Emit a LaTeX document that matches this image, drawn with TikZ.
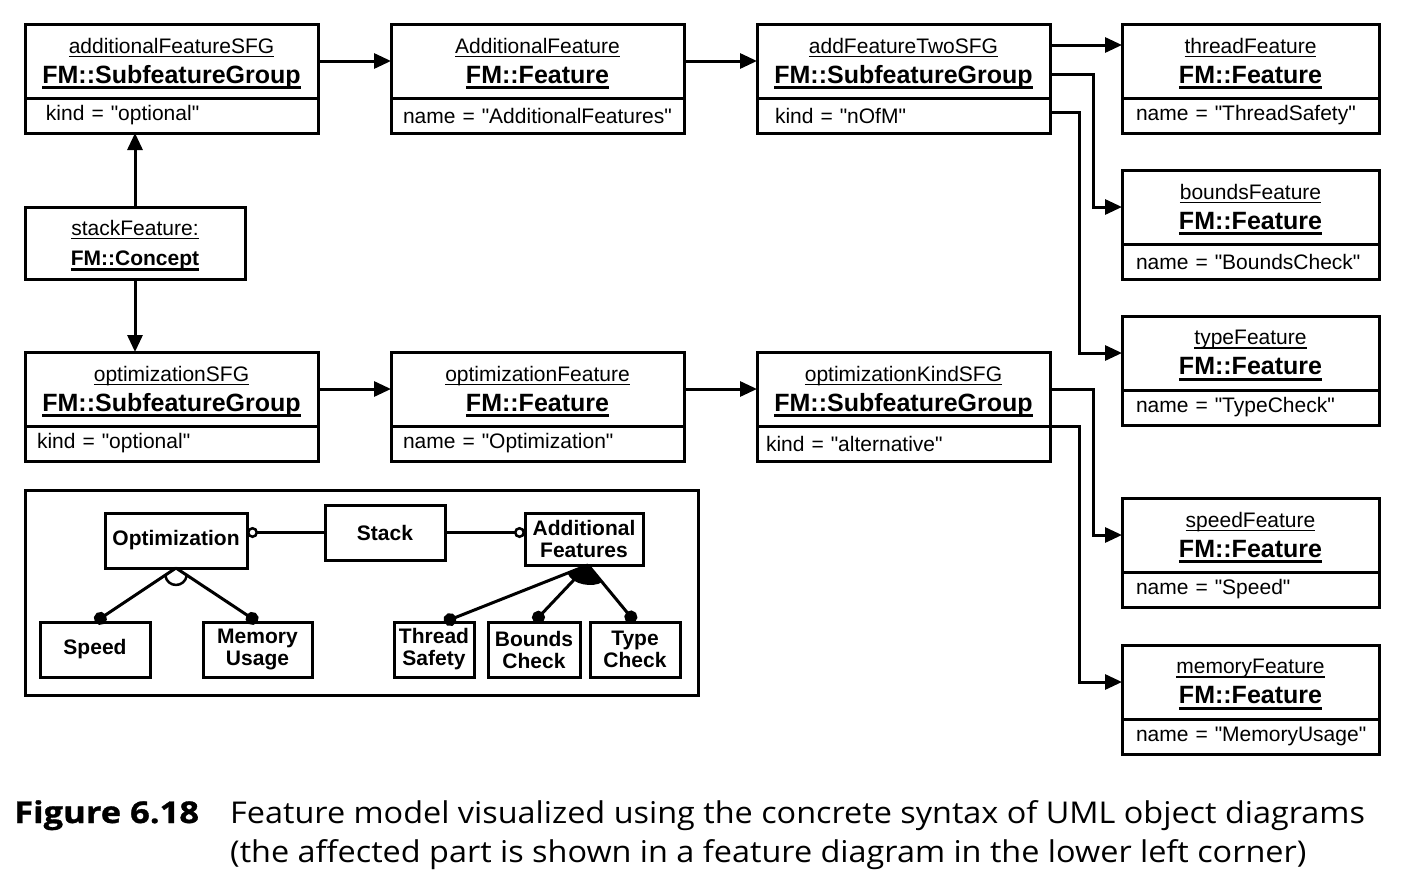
\documentclass[tikz,border=0pt]{standalone}
\usepackage{fontspec}
\setmainfont{Liberation Sans}[Ligatures=TeXOff]
\newfontfamily\capfont{Open Sans}[FakeStretch=1.08]
\newfontfamily\capboldfont{Open Sans}[FakeStretch=1.15,FakeBold=1]
\usepackage{tikz}
\usetikzlibrary{calc}
\usetikzlibrary{positioning}
\usetikzlibrary{arrows.meta}

\newcommand\objname[1]{\setbox0\hbox{#1}\leavevmode\rlap{\rule[-4pt]{\wd0}{1.5pt}}\box0}
\newcommand\objclass[2][25]{\setbox0\hbox{\fontsize{#1}{30}\selectfont\bfseries#2}\leavevmode\rlap{\rule[-6pt]{\wd0}{3pt}}\box0}

\begin{document}
\begin{tikzpicture}[x=1pt,y=-1pt,node distance=73pt,
  obj/.style={draw,line width=3pt,minimum width=293pt,minimum height=74pt,inner sep=0pt,outer sep=0pt,align=center,text depth=1pt,font=\fontsize{21}{30}\selectfont},
  attr/.style={draw,line width=3pt,minimum width=293pt,minimum height=35pt,inner sep=0pt,outer sep=0pt,text width=269pt,align=left,font=\fontsize{21}{25}\selectfont},
  feat/.style={obj,minimum width=257pt},
  fattr/.style={attr,minimum width=257pt,text width=229pt},
  link/.style={line width=3pt,-{Triangle[length=17pt,width=15pt]}},
  fnode/.style={draw,line width=3pt,inner sep=0pt,outer sep=0pt,minimum height=55pt,align=center,font=\fontsize{21}{22}\selectfont\bfseries},
  opt/.style={line width=3pt,-{Circle[open,length=11pt,line width=2.5pt]}},
  mand/.style={line width=3pt,-{Circle[length=13pt]}},
  caption/.style={anchor=base west,inner sep=0pt,font=\capfont\fontsize{30}{40}\selectfont}]
\useasboundingbox (0,0) rectangle (1402,894);

% object diagram
\node[obj] (addsfg) at (171.5,61) {\objname{additionalFeatureSFG}\\\objclass{FM::SubfeatureGroup}};
\node[attr,below=0pt of addsfg] (addsfg-a) {\hspace*{9pt}kind = "optional"};
\node[obj,right=of addsfg] (addfeat) {\objname{AdditionalFeature}\\\objclass{FM::Feature}};
\node[attr,below=0pt of addfeat] (addfeat-a) {name = "AdditionalFeatures"};
\node[obj,right=of addfeat] (addtwo) {\objname{addFeatureTwoSFG}\\\objclass{FM::SubfeatureGroup}};
\node[attr,below=0pt of addtwo] (addtwo-a) {\hspace*{6pt}kind = "nOfM"};

\node[obj,minimum width=220pt,minimum height=72pt] (stack) at (135,243) {\objname{stackFeature:}\\\objclass[21]{FM::Concept}};

\node[obj] (optsfg) at (171.5,389) {\objname{optimizationSFG}\\\objclass{FM::SubfeatureGroup}};
\node[attr,below=0pt of optsfg] (optsfg-a) {kind = "optional"};
\node[obj,right=of optsfg] (optfeat) {\objname{optimizationFeature}\\\objclass{FM::Feature}};
\node[attr,below=0pt of optfeat] (optfeat-a) {name = "Optimization"};
\node[obj,right=of optfeat] (optkind) {\objname{optimizationKindSFG}\\\objclass{FM::SubfeatureGroup}};
\node[attr,below=0pt of optkind] (optkind-a) {\hspace*{-3pt}kind = "alternative"};

\node[feat] (threadfeat) at (1250.5,61) {\objname{threadFeature}\\\objclass{FM::Feature}};
\node[fattr,below=0pt of threadfeat] (threadfeat-a) {name = "ThreadSafety"};
\node[feat,below=37pt of threadfeat-a] (boundsfeat) {\objname{boundsFeature}\\\objclass{FM::Feature}};
\node[fattr,below=0pt of boundsfeat] (boundsfeat-a) {name = "BoundsCheck"};
\node[feat,below=37pt of boundsfeat-a] (typefeat) {\objname{typeFeature}\\\objclass{FM::Feature}};
\node[fattr,below=0pt of typefeat] (typefeat-a) {name = "TypeCheck"};
\node[feat,below=73pt of typefeat-a] (speedfeat) {\objname{speedFeature}\\\objclass{FM::Feature}};
\node[fattr,below=0pt of speedfeat] (speedfeat-a) {name = "Speed"};
\node[feat,below=38pt of speedfeat-a] (memoryfeat) {\objname{memoryFeature}\\\objclass{FM::Feature}};
\node[fattr,below=0pt of memoryfeat] (memoryfeat-a) {\mbox{name = "MemoryUsage"}};

\path[link]
    (addsfg) edge (addfeat)
    (addfeat) edge (addtwo)
    (optsfg) edge (optfeat)
    (optfeat) edge (optkind)
    (stack.north) edge (stack.north |- addsfg-a.south)
    (stack.south) edge (stack.south |- optsfg.north)
    ([yshift=16pt]addtwo.east) edge ([yshift=16pt]threadfeat.west)
;
\draw[link] ([yshift=-13pt]addtwo.east) -| ([xshift=-29pt]boundsfeat.west) -- (boundsfeat.west);
\draw[link] ([yshift=3pt]addtwo-a.east) -| ([xshift=-43pt]typefeat.west) -- (typefeat.west);
\draw[link] (optkind.east) -| ([xshift=-29pt]speedfeat.west) -- (speedfeat.west);
\draw[link] (optkind.south east) -| ([xshift=-43pt]memoryfeat.west) -- (memoryfeat.west);

% feature diagram
\draw[line width=3pt] (25,490) rectangle (698,695);
\node[fnode,minimum width=142pt] (optim) at (176,540.5) {Optimization};
\node[fnode,minimum width=120pt] (stk) at (385,532.5) {Stack};
\node[fnode,minimum width=118pt,minimum height=52pt] (addf) at (584,539) {Additional\\Features};
\node[fnode,minimum width=110pt] (speed) at (95,649.5) {Speed};
\node[fnode,minimum width=109pt] (memory) at (257.5,649.5) {Memory\\Usage};
\node[fnode,minimum width=80pt] (thread) at (434,649.5) {Thread\\Safety};
\node[fnode,minimum width=92pt] (bounds) at (534,649.5) {Bounds\\Check};
\node[fnode,minimum width=90pt] (tcheck) at (635,649.5) {Type\\Check};
\coordinate (addroot) at ([xshift=4pt]addf.south);
\coordinate (threadtop) at ([xshift=10pt]thread.north);

\draw[opt] (stk.west) -- (stk.west -| optim.east);
\draw[opt] (stk.east) -- (stk.east -| addf.west);
\path[mand]
    (optim.south) edge (speed.north)
    (optim.south) edge (memory.north)
    (addroot) edge (threadtop)
    (addroot) edge (bounds.north)
    (addroot) edge (tcheck.north)
;
\draw[line width=2.5pt] ($(optim.south)!13pt!(speed.north)$) .. controls +(2,13) and +(-2,13) .. ($(optim.south)!13pt!(memory.north)$);
\fill (addroot) -- ($(addroot)!22pt!(threadtop)$) .. controls +(4,12) and +(-8,6) .. ($(addroot)!22pt!(tcheck.north)$) -- cycle;

% caption
\node[caption,font=\capboldfont\fontsize{30}{40}\selectfont\bfseries] (figno) at (14,823) {Figure 6.18};
\node[caption] (cap1) at (230,823) {Feature model visualized using the concrete syntax of UML object diagrams};
\node[caption] (cap2) at (230,862) {(the affected part is shown in a feature diagram in the lower left corner)};
\end{tikzpicture}
\end{document}
